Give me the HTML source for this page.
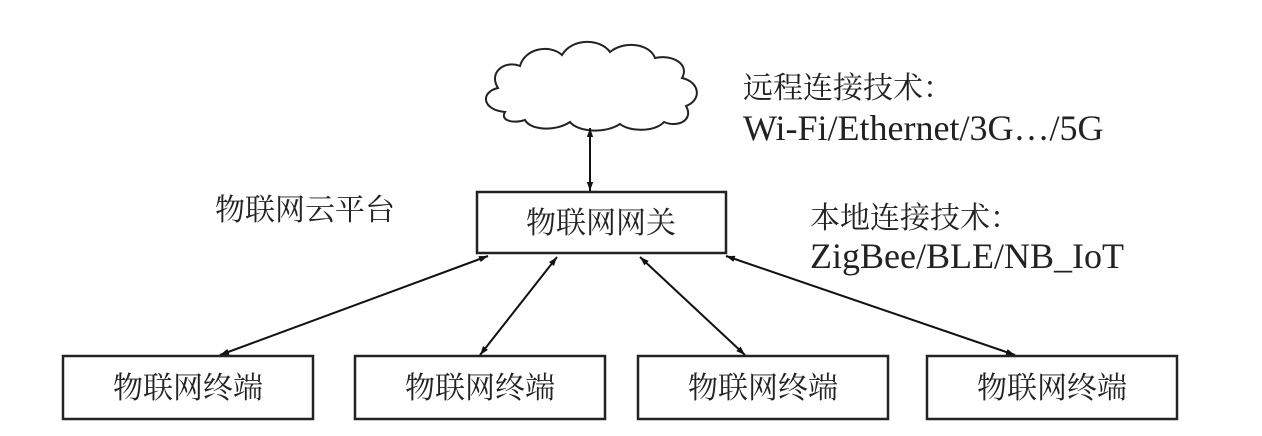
<!DOCTYPE html>
<html><head><meta charset="utf-8"><style>
html,body{margin:0;padding:0;background:#fff;}
svg{display:block;}
.cn{font-family:"Liberation Serif","Noto Serif CJK SC","Noto Sans CJK SC",serif;font-size:30px;fill:#222;}
.en{font-family:"Liberation Serif",serif;font-size:36px;fill:#222;}
</style></head><body>
<svg width="1262" height="436" viewBox="0 0 1262 436" xmlns="http://www.w3.org/2000/svg">
<defs>
<marker id="a" viewBox="0 0 10 10" refX="10" refY="5" markerWidth="9" markerHeight="9" orient="auto-start-reverse" markerUnits="userSpaceOnUse">
<path d="M0,1.5 L10,5 L0,8.5 z" fill="#111"/></marker>
</defs>
<path d="M505,112 C482,110 480,92 498,88 C488,72 505,60 520,66 C525,48 550,44 562,55 C572,38 600,38 610,52 C625,40 650,44 655,58 C672,54 690,64 682,78 C700,82 702,100 686,106 C694,120 678,128 664,122 C655,132 630,132 620,124 C605,134 578,132 570,122 C555,132 530,130 525,120 C512,124 500,120 505,112 Z" fill="#fff" stroke="#222" stroke-width="2"/>
<line x1="590" y1="128" x2="590" y2="191" stroke="#111" stroke-width="2" marker-start="url(#a)" marker-end="url(#a)"/>
<rect x="477" y="192" width="249" height="61" fill="#fff" stroke="#222" stroke-width="2.5"/>
<text x="601" y="233" text-anchor="middle" class="cn">物联网网关</text>
<text x="215" y="220" class="cn">物联网云平台</text>
<text x="743" y="98" class="cn">远程连接技术：</text>
<text x="743" y="140" class="en">Wi-Fi/Ethernet/3G…/5G</text>
<text x="810" y="228" class="cn">本地连接技术：</text>
<text x="810" y="268" class="en">ZigBee/BLE/NB_IoT</text>
<g stroke="#111" stroke-width="2" marker-start="url(#a)" marker-end="url(#a)">
<line x1="488" y1="256" x2="220" y2="355"/>
<line x1="557" y1="257" x2="480" y2="355"/>
<line x1="640" y1="257" x2="745" y2="355"/>
<line x1="726" y1="256" x2="1015" y2="355"/>
</g>
<g fill="#fff" stroke="#222" stroke-width="2.5">
<rect x="63" y="356" width="250" height="63"/>
<rect x="355" y="356" width="250" height="63"/>
<rect x="638" y="356" width="250" height="63"/>
<rect x="927" y="356" width="250" height="63"/>
</g>
<g text-anchor="middle" class="cn">
<text x="188" y="398">物联网终端</text>
<text x="480" y="398">物联网终端</text>
<text x="763" y="398">物联网终端</text>
<text x="1052" y="398">物联网终端</text>
</g>
</svg>
</body></html>
